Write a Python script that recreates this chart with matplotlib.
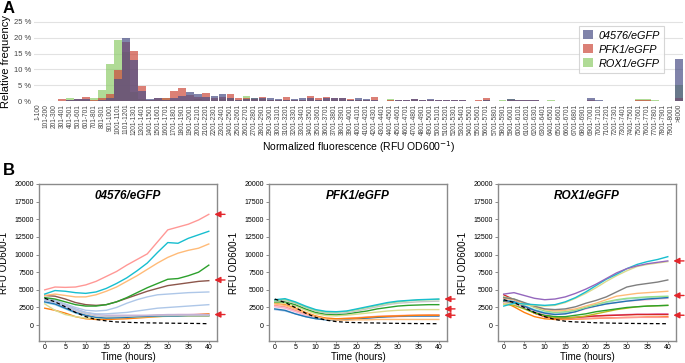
import numpy as np
import matplotlib
matplotlib.use("Agg")
import matplotlib.pyplot as plt

plt.rcParams['font.family'] = ['Liberation Sans', 'DejaVu Sans']

# ---- panel A: histogram of normalized fluorescence ----
bins = (["1-100", "101-200", "201-300"]
        + [f"{a}-{a + 100}" for a in range(301, 8000, 100)]
        + [">8000"])

freq_04576 = [0, 0, 0, 0, 0.3, 0.7, 0.5, 0, 0.3, 1.0,
              6.8, 20.0, 12.9, 3.1, 0.7, 1.0, 0.3, 1.0, 1.7, 2.8,
              2.3, 1.4, 1.5, 2.2, 0.8, 0.4, 0.5, 0.9, 0.9, 1.1,
              0.5, 0.3, 0.5, 1.1, 0.8, 0.3, 0.8, 1.0, 1.1, 0.3,
              1.1, 0.5, 0.4, 0.1, 0.1, 0.2, 0.2, 0.6, 0.2, 0.7,
              0.4, 0.2, 0.4, 0.2, 0, 0.1, 0.2, 0.1, 0.1, 0.5,
              0.2, 0.4, 0.4, 0.1, 0.1, 0.1, 0.1, 0.1, 0.1, 1.0,
              0.2, 0.05, 0.05, 0.05, 0.05, 0.1, 0.1, 0.1, 0.1, 0.1,
              13.2]
freq_pfk1 = [0, 0, 0, 0.7, 0.2, 0.5, 1.2, 0.2, 0.8, 2.1,
             9.8, 18.6, 15.7, 4.9, 0.3, 1.0, 0.8, 3.2, 4.1, 1.8,
             1.2, 2.6, 0.8, 1.2, 2.2, 0.8, 0.8, 0.6, 1.2, 0.4,
             0.3, 1.2, 0.2, 0.4, 1.6, 0.8, 1.2, 1.1, 1.1, 0.7,
             0.4, 0.3, 1.2, 0.1, 0.2, 0.2, 0.2, 0.5, 0.3, 0.3,
             0.2, 0.3, 0.2, 0.3, 0, 0.3, 0.8, 0.1, 0.1, 0.2,
             0.3, 0.2, 0.2, 0.1, 0.1, 0.1, 0.1, 0.1, 0.1, 0.2,
             0.05, 0.05, 0.05, 0.05, 0.05, 0.2, 0.2, 0.1, 0.1, 0.1,
             1.0]
freq_rox1 = [0, 0, 0, 0, 1.0, 0.2, 0.3, 1.1, 3.6, 11.8,
             19.3, 15.5, 3.0, 0.5, 0.2, 0.3, 1.1, 0.3, 0.3, 0.3,
             0.5, 0.3, 0.4, 0.5, 0.8, 0.3, 1.6, 1.1, 0.5, 0.3,
             0.3, 0.3, 0.3, 0.3, 0.3, 0.3, 0.3, 0.3, 0.3, 0.2,
             0.2, 0.2, 0.1, 0.1, 0.6, 0.1, 0.1, 0.2, 0.1, 0.1,
             0.1, 0.1, 0.1, 0.1, 0, 0.1, 0.2, 0.1, 0.3, 0.5,
             0.1, 0.1, 0.1, 0.1, 0.3, 0.1, 0.1, 0.1, 0.1, 0.1,
             0.05, 0.05, 0.05, 0.05, 0.05, 0.6, 0.6, 0.4, 0.1, 0.05,
             5.2]

# ---- panel B: RFU/OD600 time courses (every 2.5 h) ----
hours = [0, 2.5, 5, 7.5, 10, 12.5, 15, 17.5, 20, 22.5, 25, 27.5, 30, 32.5, 35, 37.5, 40]

curves_04576 = [
    [5000, 5400, 5350, 5400, 5700, 6200, 6900, 7600, 8500, 9300, 10100, 11800, 13500, 13900, 14300, 14900, 15700],
    [4400, 4900, 4800, 4600, 4500, 4700, 5200, 5900, 6700, 7700, 8800, 10300, 11700, 11600, 12300, 12800, 13300],
    [4200, 4400, 4200, 4000, 4000, 4300, 4800, 5400, 6200, 7000, 7900, 8800, 9600, 10200, 10600, 10900, 11500],
    [3900, 3700, 3300, 2900, 2700, 2700, 2900, 3300, 3900, 4600, 5300, 5900, 6500, 6600, 7000, 7500, 8500],
    [4200, 4100, 3700, 3200, 2900, 2800, 2900, 3300, 3800, 4300, 4800, 5200, 5600, 5800, 6000, 6200, 6300],
    [3700, 3500, 3000, 2500, 2100, 2000, 2100, 2500, 3100, 3600, 4000, 4300, 4400, 4500, 4600, 4650, 4700],
    [3500, 3200, 2700, 2200, 1800, 1600, 1600, 1700, 1800, 2000, 2200, 2400, 2500, 2600, 2700, 2800, 2900],
    [3800, 3500, 2900, 2300, 1800, 1500, 1400, 1400, 1400, 1400, 1400, 1450, 1500, 1500, 1500, 1500, 1500],
    [3600, 3300, 2700, 2100, 1600, 1300, 1200, 1200, 1250, 1300, 1350, 1400, 1400, 1400, 1400, 1400, 1400],
    [3300, 3000, 2400, 1800, 1400, 1100, 1000, 1050, 1100, 1200, 1250, 1300, 1300, 1300, 1350, 1350, 1350],
    [3000, 2100, 1500, 1200, 1000, 1000, 1000, 1050, 1100, 1150, 1200, 1200, 1250, 1250, 1250, 1250, 1250],
    [2400, 2100, 1700, 1200, 900, 800, 800, 850, 900, 1000, 1100, 1200, 1300, 1400, 1450, 1500, 1600],
    [3400, 3100, 2500, 1900, 1400, 1100, 1000, 1050, 1100, 1200, 1300, 1400, 1450, 1500, 1500, 1550, 1600],
    [3200, 2900, 2300, 1700, 1300, 1100, 1000, 1000, 1050, 1100, 1200, 1250, 1300, 1300, 1300, 1300, 1300],
]
blank_04576 = [3800, 3300, 2600, 1800, 1200, 800, 600, 450, 400, 350, 320, 300, 280, 260, 250, 230, 200]

curves_pfk1 = [
    [3600, 3750, 3300, 2700, 2200, 1950, 1900, 2000, 2300, 2600, 2900, 3200, 3400, 3500, 3600, 3650, 3700],
    [3500, 3650, 3200, 2600, 2100, 1850, 1850, 1950, 2200, 2500, 2800, 3100, 3300, 3450, 3550, 3600, 3650],
    [3400, 3500, 3100, 2500, 2000, 1700, 1650, 1750, 2000, 2300, 2600, 2900, 3100, 3200, 3300, 3350, 3400],
    [3300, 3300, 2900, 2300, 1800, 1550, 1500, 1600, 1800, 2000, 2300, 2500, 2700, 2800, 2850, 2900, 2900],
    [3200, 3100, 2700, 2100, 1600, 1350, 1300, 1400, 1550, 1700, 1850, 2000, 2100, 2150, 2200, 2200, 2200],
    [3000, 2800, 2300, 1700, 1200, 850, 700, 700, 750, 750, 800, 800, 800, 800, 800, 800, 800],
    [3100, 2900, 2400, 1800, 1300, 1000, 900, 950, 1000, 1100, 1200, 1250, 1300, 1350, 1400, 1400, 1400],
    [2800, 2600, 2100, 1600, 1200, 950, 900, 950, 1050, 1150, 1250, 1300, 1350, 1400, 1400, 1450, 1450],
    [2300, 2100, 1600, 1200, 900, 750, 700, 800, 900, 1000, 1100, 1200, 1250, 1300, 1300, 1300, 1300],
    [2200, 2000, 1600, 1200, 950, 800, 750, 850, 950, 1050, 1150, 1200, 1250, 1300, 1300, 1350, 1350],
    [2600, 2400, 1900, 1400, 1000, 800, 750, 800, 900, 1000, 1100, 1150, 1200, 1250, 1250, 1250, 1250],
]
blank_pfk1 = [3700, 3200, 2500, 1700, 1100, 700, 500, 400, 350, 320, 300, 270, 250, 230, 220, 210, 200]

curves_rox1 = [
    [4400, 4600, 4200, 3800, 3600, 3700, 4000, 4500, 5100, 5800, 6600, 7400, 8000, 8400, 8700, 8900, 9100],
    [2700, 3100, 3000, 2900, 2800, 2900, 3300, 3900, 4700, 5600, 6500, 7200, 8000, 8600, 9000, 9300, 9700],
    [3000, 3000, 2900, 2800, 2700, 2800, 3200, 3800, 4500, 5300, 6200, 7000, 7700, 8300, 8600, 8800, 9000],
    [3900, 3700, 3200, 2700, 2300, 2200, 2300, 2600, 3100, 3500, 4000, 4700, 5400, 5700, 5900, 6100, 6400],
    [3800, 3600, 3100, 2600, 2200, 2000, 2100, 2300, 2700, 3100, 3600, 4100, 4300, 4500, 4600, 4700, 4800],
    [4000, 3700, 3100, 2500, 2000, 1800, 1900, 2100, 2500, 2900, 3300, 3600, 3800, 3900, 4000, 4050, 4100],
    [3500, 3300, 2700, 2100, 1700, 1500, 1600, 1900, 2400, 2700, 3000, 3200, 3400, 3550, 3700, 3800, 3900],
    [3200, 3000, 2500, 2000, 1600, 1500, 1600, 1900, 2300, 2700, 3000, 3200, 3400, 3500, 3600, 3700, 3800],
    [3600, 3400, 2800, 2200, 1800, 1700, 1800, 2100, 2500, 2900, 3200, 3500, 3700, 3800, 3900, 4000, 4000],
    [3300, 3000, 2400, 1800, 1400, 1200, 1200, 1400, 1600, 1900, 2100, 2300, 2500, 2600, 2700, 2750, 2800],
    [3000, 2800, 2300, 1700, 1300, 1050, 1000, 1100, 1300, 1600, 1900, 2200, 2400, 2600, 2700, 2750, 2800],
    [4300, 3600, 2600, 1700, 1200, 1000, 1000, 1100, 1200, 1300, 1350, 1400, 1450, 1500, 1500, 1500, 1500],
    [3600, 3300, 2600, 1900, 1400, 1100, 1050, 1100, 1200, 1300, 1400, 1450, 1500, 1550, 1550, 1600, 1600],
    [3400, 3100, 2400, 1700, 1200, 950, 900, 900, 950, 1000, 1000, 1050, 1050, 1100, 1100, 1100, 1100],
    [3300, 2600, 1800, 1200, 900, 800, 800, 850, 900, 950, 1000, 1050, 1100, 1100, 1150, 1150, 1200],
]
blank_rox1 = [3600, 3200, 2500, 1800, 1200, 800, 550, 450, 400, 330, 300, 270, 250, 230, 220, 210, 200]

arrows_04576 = [15700, 6400, 1500]
arrows_pfk1 = [3700, 2300, 1400]
arrows_rox1 = [9100, 4200, 1400]

strains = ["04576/eGFP", "PFK1/eGFP", "ROX1/eGFP"]


def px(x0, y0, w, h):
    """pixel box (from top-left) -> figure fraction rect"""
    return [x0 / 685, 1 - (y0 + h) / 363, w / 685, h / 363]


fig = plt.figure(figsize=(6.85, 3.63), dpi=100)

# ---------------- A ----------------
axA = fig.add_axes(px(34, 21, 649, 80))
x = np.arange(len(bins))
hist_colors = ['#4a4f86', '#cc4a3c', '#8fcc6a']
for vals, c, lab in [(freq_rox1, hist_colors[2], strains[2]),
                     (freq_pfk1, hist_colors[1], strains[1]),
                     (freq_04576, hist_colors[0], strains[0])]:
    axA.bar(x, vals, width=0.94, color=c, alpha=0.7, label=lab, zorder=2)
axA.set_xlim(-0.5, len(bins) - 0.5)
axA.set_ylim(0, 25.3)
axA.set_yticks([0, 5, 10, 15, 20, 25])
axA.set_yticklabels([f"{v} %" for v in [0, 5, 10, 15, 20, 25]], fontsize=5.5, color='#444444')
axA.set_xticks(x)
axA.set_xticklabels(bins, rotation=90, fontsize=4.7, color='#444444')
axA.tick_params(length=0, pad=2)
axA.grid(axis='y', color='#e2e2e2', lw=0.8, zorder=0)
for s in axA.spines.values():
    s.set_visible(False)
axA.set_ylabel("Relative frequency", fontsize=8, labelpad=2)
axA.set_xlabel("Normalized fluorescence (RFU OD600$^{-1}$)", fontsize=7.5, labelpad=3)

handles, labels = axA.get_legend_handles_labels()
order = [2, 1, 0]
leg = fig.legend([handles[i] for i in order], [labels[i] for i in order],
                 loc='upper left', bbox_to_anchor=(579 / 685, 1 - 26 / 363),
                 borderaxespad=0,
                 prop={'style': 'italic', 'size': 7.8}, frameon=True, fancybox=False,
                 edgecolor='#cccccc', handlelength=0.9, handleheight=0.9,
                 handletextpad=0.5, borderpad=0.4, labelspacing=0.35)
leg.get_frame().set_linewidth(0.8)

fig.text(0.004, 0.997, "A", fontsize=12, fontweight='bold', va='top')
fig.text(0.004, 1 - 163 / 363, "B", fontsize=12, fontweight='bold', va='top')

# ---------------- B ----------------
panel_colors = {
    0: ['#ff9896', '#17becf', '#ffbb78', '#2ca02c', '#8c564b', '#aec7e8', '#aec7e8',
        '#c5b0d5', '#c7c7c7', '#1f77b4', '#dbdb8d', '#ff7f0e', '#f7b6d2', '#9edae5'],
    1: ['#17becf', '#98df8a', '#c7c7c7', '#2ca02c', '#dbdb8d', '#ffbb78', '#ff7f0e',
        '#ff9896', '#1f77b4', '#aec7e8', '#f7b6d2'],
    2: ['#9467bd', '#17becf', '#dbdb8d', '#7f7f7f', '#ffbb78', '#98df8a', '#1f77b4',
        '#f7b6d2', '#9edae5', '#2ca02c', '#bcbd22', '#d62728', '#e377c2', '#ff9896',
        '#ff7f0e'],
}
all_curves = [curves_04576, curves_pfk1, curves_rox1]
blanks = [blank_04576, blank_pfk1, blank_rox1]
all_arrows = [arrows_04576, arrows_pfk1, arrows_rox1]
lefts = [39, 269, 498]

for k in range(3):
    ax = fig.add_axes(px(lefts[k], 184, 178, 157))
    for vals, c in zip(all_curves[k][::-1], panel_colors[k][::-1]):
        ax.plot(hours, vals, color=c, lw=1.0)
    ax.plot(hours, blanks[k], color='black', lw=0.9, ls=(0, (3, 2)))
    ax.set_xlim(-1.4, 42)
    ax.set_ylim(-2250, 20000)
    ax.set_yticks(range(0, 20001, 2500))
    ax.set_xticks(range(0, 41, 5))
    ax.tick_params(labelsize=5.0, width=0.6, color='#777777')
    ax.tick_params(axis='x', length=1.5, pad=1)
    ax.tick_params(axis='y', length=2.5, pad=1.2)
    for s in ax.spines.values():
        s.set_color('#8a8a8a')
        s.set_linewidth(1.0)
    ax.set_ylabel("RFU OD600-1", fontsize=7.0)
    ax.yaxis.set_label_coords(-0.168, 0.5)
    ax.set_xlabel("Time (hours)", fontsize=7, labelpad=0.5)
    ax.text(0.5, 0.924, strains[k], transform=ax.transAxes, ha='center', va='center',
            fontsize=8.5, fontweight='bold', style='italic')
    for v in all_arrows[k]:
        ax.annotate('', xy=(0.985, v), xytext=(1.045, v),
                    xycoords=('axes fraction', 'data'),
                    textcoords=('axes fraction', 'data'),
                    arrowprops=dict(arrowstyle='-|>', color='#e3262b', lw=1.0,
                                    shrinkA=0, shrinkB=0, mutation_scale=9),
                    annotation_clip=False)

fig.savefig("out.png", dpi=100)
